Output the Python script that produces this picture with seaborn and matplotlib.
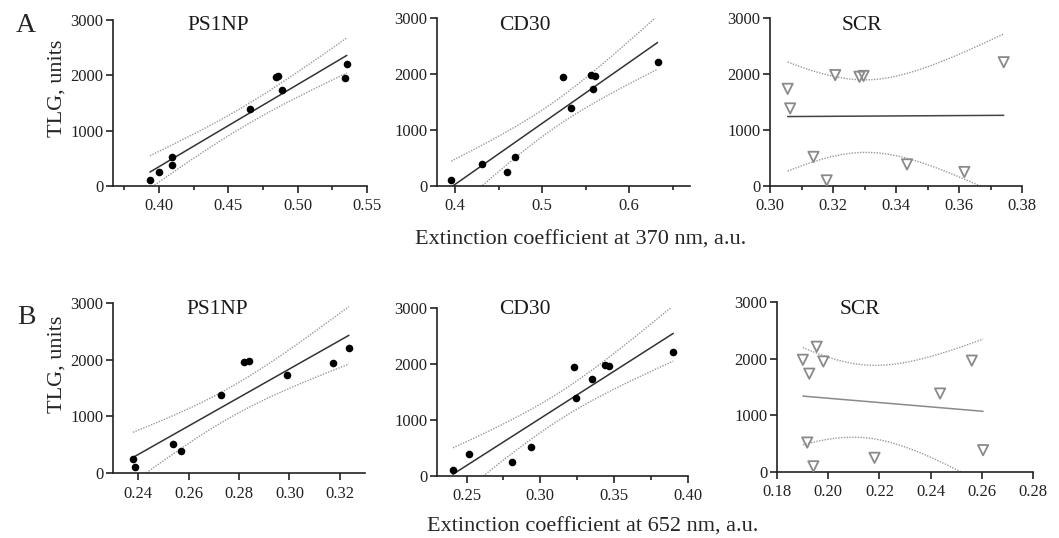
import numpy as np
import matplotlib
matplotlib.use("Agg")
import matplotlib.pyplot as plt
import seaborn as sns

# TLG values of the ten samples (same for every panel)
tlg = [100, 250, 385, 520, 1385, 1735, 1950, 1965, 1980, 2210]

# extinction coefficients at 370 nm
ps1np_370 = [0.3936, 0.3998, 0.4093, 0.4097, 0.4660, 0.4886, 0.5338, 0.4843, 0.4857, 0.5355]
cd30_370 = [0.3954, 0.4596, 0.4308, 0.4685, 0.5327, 0.5581, 0.5238, 0.5608, 0.5562, 0.6327]
scr_370 = [0.3180, 0.3617, 0.3435, 0.3138, 0.3064, 0.3056, 0.3284, 0.3297, 0.3207, 0.3742]

# extinction coefficients at 652 nm
ps1np_652 = [0.2389, 0.2379, 0.2569, 0.2538, 0.2730, 0.2992, 0.3174, 0.2818, 0.2838, 0.3236]
cd30_652 = [0.2408, 0.2810, 0.2516, 0.2940, 0.3241, 0.3353, 0.3230, 0.3464, 0.3435, 0.3900]
scr_652 = [0.1942, 0.2181, 0.2605, 0.1918, 0.2437, 0.1926, 0.1981, 0.2561, 0.1901, 0.1955]

W, H = 1059, 538
sns.set_theme(style="ticks")
plt.rcParams["font.family"] = ["Liberation Serif", "DejaVu Serif"]
plt.rcParams["axes.linewidth"] = 1.2

fig = plt.figure(figsize=(W / 100, H / 100), dpi=100)


def box(l, r, t, b):
    return [l / W, 1 - b / H, (r - l) / W, (b - t) / H]


panels = [
    # x data, box, xlim, major, minor, tick fmt, title, title pos, marker style
    (ps1np_370, box(113, 367, 20, 186), (0.367, 0.55), [0.40, 0.45, 0.50, 0.55],
     [0.375, 0.425, 0.475, 0.525], "{:.2f}", "PS1NP", (218, 25), "dot", "#333333"),
    (cd30_370, box(437, 690, 18, 186), (0.379, 0.67), [0.4, 0.5, 0.6],
     [0.45, 0.55, 0.65], "{:.1f}", "CD30", (525, 25), "dot", "#333333"),
    (scr_370, box(770, 1022, 18, 186), (0.30, 0.38), [0.30, 0.32, 0.34, 0.36, 0.38],
     [0.31, 0.33, 0.35, 0.37], "{:.2f}", "SCR", (862, 25), "tri", "#444444"),
    (ps1np_652, box(113, 365, 303, 473), (0.23, 0.33), [0.24, 0.26, 0.28, 0.30, 0.32],
     [], "{:.2f}", "PS1NP", (217, 310), "dot", "#333333"),
    (cd30_652, box(437, 688, 308, 476), (0.23, 0.40), [0.25, 0.30, 0.35, 0.40],
     [0.275, 0.325, 0.375], "{:.2f}", "CD30", (525, 309), "dot", "#333333"),
    (scr_652, box(777, 1033, 302, 472), (0.18, 0.28), [0.18, 0.20, 0.22, 0.24, 0.26, 0.28],
     [], "{:.2f}", "SCR", (860, 309), "tri", "#8a8a8a"),
]

t_crit = 2.306  # t(0.975, df=8)

for xs, rect, xlim, major, minor, fmt, title, tpos, style, linecol in panels:
    ax = fig.add_axes(rect)
    x = np.array(xs)
    y = np.array(tlg, dtype=float)

    # linear fit and 95% confidence band
    sns.regplot(x=x, y=y, ax=ax, scatter=False, ci=None, truncate=True,
                line_kws=dict(color=linecol, lw=1.1))
    b1, b0 = np.polyfit(x, y, 1)
    n = len(x)
    resid = y - (b0 + b1 * x)
    s = np.sqrt(np.sum(resid ** 2) / (n - 2))
    grid = np.linspace(x.min(), x.max(), 200)
    se = s * np.sqrt(1 / n + (grid - x.mean()) ** 2 / np.sum((x - x.mean()) ** 2))
    fit = b0 + b1 * grid
    for band in (fit - t_crit * se, fit + t_crit * se):
        ax.plot(grid, band, color="#9a9a9a", lw=1.0, ls=(0, (1, 1)))

    if style == "dot":
        sns.scatterplot(x=x, y=y, ax=ax, color="black", s=30, edgecolor="black",
                        linewidth=0, zorder=5)
    else:
        sns.scatterplot(x=x, y=y, ax=ax, marker="v", s=55, facecolors="none",
                        edgecolor="#8a8a8a", linewidth=1.3, zorder=5)

    ax.set_xlim(*xlim)
    ax.set_ylim(0, 3000)
    ax.set_yticks([0, 1000, 2000, 3000])
    ax.set_xticks(major)
    ax.set_xticklabels([fmt.format(v) for v in major])
    ax.set_xticks(minor, minor=True)
    ax.tick_params(axis="both", which="major", length=5, width=1.2, pad=2,
                   labelsize=12, colors="#222222")
    ax.tick_params(axis="x", which="minor", length=3, width=1.2, colors="#222222")
    ax.tick_params(axis="x", which="major", pad=4)
    for side in ("top", "right"):
        ax.spines[side].set_visible(False)
    for side in ("left", "bottom"):
        ax.spines[side].set_color("#222222")
    ax.set_xlabel("")
    ax.set_ylabel("")

    fig.text(tpos[0] / W, 1 - tpos[1] / H, title, fontsize=15.5,
             ha="center", va="center", color="#1a1a1a")

# panel letters and shared labels
fig.text(26 / W, 1 - 26 / H, "A", fontsize=20, ha="center", va="center")
fig.text(26 / W, 1 - 318 / H, "B", fontsize=20, ha="center", va="center")
fig.text(57 / W, 1 - 88 / H, "TLG, units", fontsize=16, rotation=90,
         ha="center", va="center")
fig.text(57 / W, 1 - 364 / H, "TLG, units", fontsize=16, rotation=90,
         ha="center", va="center")
fig.text(581 / W, 1 - 245 / H, "Extinction coefficient at 370 nm, a.u.",
         fontsize=16, ha="center", va="baseline")
fig.text(593 / W, 1 - 532 / H, "Extinction coefficient at 652 nm, a.u.",
         fontsize=16, ha="center", va="baseline")

fig.savefig("out.png", dpi=100)
